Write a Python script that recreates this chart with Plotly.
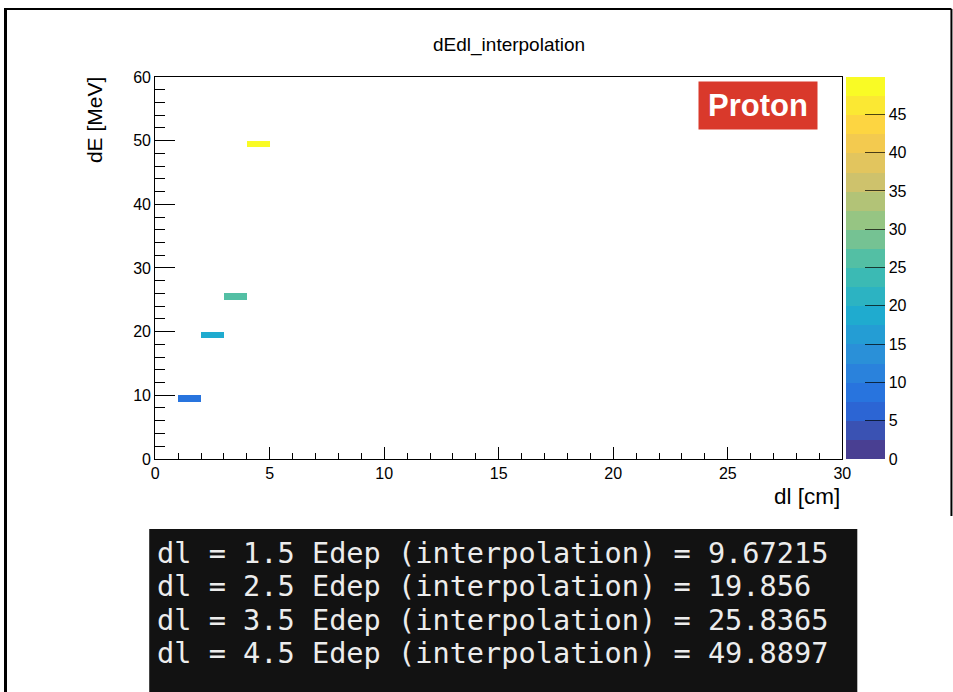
import numpy as np
import plotly.graph_objects as go

# ---- data ----
dl_values = [1.5, 2.5, 3.5, 4.5]
edep_values = [9.67215, 19.856, 25.8365, 49.8897]
x_edges = list(range(0, 31))          # 30 bins, width 1 cm
y_edges = list(range(0, 61))          # 60 bins, width 1 MeV
cbar_ticks = [0, 5, 10, 15, 20, 25, 30, 35, 40, 45]
terminal_lines = [f"dl = {d} Edep (interpolation) = {e}" for d, e in
                  zip(["1.5", "2.5", "3.5", "4.5"], ["9.67215", "19.856", "25.8365", "49.8897"])]

# ---- histogram fill (TH2 with weight = Edep) ----
nx, ny = len(x_edges) - 1, len(y_edges) - 1
z = np.full((ny, nx), np.nan)
for d, e in zip(dl_values, edep_values):
    ix = int(np.floor(d - x_edges[0]))
    iy = int(np.floor(e - y_edges[0]))
    z[iy, ix] = e
xc = [(x_edges[i] + x_edges[i + 1]) / 2 for i in range(nx)]
yc = [(y_edges[i] + y_edges[i + 1]) / 2 for i in range(ny)]
zz = [[None if np.isnan(v) else float(v) for v in row] for row in z]

# ---- ROOT kBird palette, 20 contour bands ----
stops = [0.0, 0.125, 0.25, 0.375, 0.5, 0.625, 0.75, 0.875, 1.0]
red = [0.2082, 0.0592, 0.0780, 0.0232, 0.1802, 0.5301, 0.8186, 0.9956, 0.9764]
green = [0.1664, 0.3599, 0.5041, 0.6419, 0.7178, 0.7492, 0.7328, 0.7862, 0.9832]
blue = [0.5293, 0.8684, 0.8385, 0.7914, 0.6425, 0.4662, 0.3499, 0.1968, 0.0539]


def bird(f, soften=0.1):
    r = np.interp(f, stops, red)
    g = np.interp(f, stops, green)
    b = np.interp(f, stops, blue)
    r, g, b = [v + (1 - v) * soften for v in (r, g, b)]
    return f"rgb({int(r*255)},{int(g*255)},{int(b*255)})"


nbands = 20
cscale = []
for i in range(nbands):
    c = bird(i / (nbands - 1))
    cscale.append([i / nbands, c])
    cscale.append([(i + 1) / nbands, c])

# mapping from target picture pixels to figure pixels (page margin/scale compensation)
SX, OX = 0.985, 4.0
SY, OY = 0.976, 7.0
W, H = 963, 702
px = lambda x: ((x - OX) / SX) / W
py = lambda y: 1 - ((y - OY) / SY) / H

x0, x1 = 155, 841
ytop, ybot = 76, 458
FONT = "Liberation Sans, Arial"

fig = go.Figure()
fig.add_trace(go.Heatmap(
    x=xc, y=yc, z=zz, zmin=0, zmax=max(edep_values),
    colorscale=cscale, hoverongaps=False,
    colorbar=dict(
        x=px(845), xanchor="left", thickness=39, thicknessmode="pixels",
        y=py(ybot), yanchor="bottom", len=py(ytop) - py(ybot), lenmode="fraction",
        outlinewidth=0, ticks="inside", ticklen=20, tickwidth=1,
        tickcolor="rgba(0,0,0,0.7)", tickvals=cbar_ticks,
        tickfont=dict(family=FONT, size=16, color="black"),
        ypad=0, xpad=0,
    ),
))

fig.update_layout(
    width=W, height=H, autosize=False,
    margin=dict(l=0, r=0, t=0, b=0),
    paper_bgcolor="white", plot_bgcolor="white",
    font=dict(family=FONT, size=16, color="black"),
    xaxis=dict(domain=[px(x0), px(x1)], range=[0, 30], showgrid=False, zeroline=False,
               showline=True, linecolor="black", linewidth=1, mirror=True,
               tickvals=list(range(0, 31, 5)), ticks="inside", ticklen=12, tickcolor="black",
               minor=dict(dtick=1, ticks="inside", ticklen=6, tickcolor="black"),
               tickfont=dict(size=16)),
    yaxis=dict(domain=[py(ybot), py(ytop)], range=[0, 60], showgrid=False, zeroline=False,
               showline=True, linecolor="black", linewidth=1, mirror=True,
               tickvals=list(range(0, 61, 10)), ticks="inside", ticklen=20, tickcolor="black",
               minor=dict(dtick=2, ticks="inside", ticklen=10, tickcolor="black"),
               tickfont=dict(size=16)),
)

ann = []
ann.append(dict(text="dEdl_interpolation", x=px(508), y=py(44), xref="paper", yref="paper",
                showarrow=False, font=dict(size=19), xanchor="center", yanchor="middle"))
ann.append(dict(text="dE [MeV]", x=px(95), y=py(74), xref="paper", yref="paper",
                showarrow=False, font=dict(size=21), textangle=-90, xanchor="center", yanchor="top"))
ann.append(dict(text="dl [cm]", x=px(841), y=py(496), xref="paper", yref="paper",
                showarrow=False, font=dict(size=22.5), xanchor="right", yanchor="middle"))
ann.append(dict(text="<b>Proton</b>", x=px(757), y=py(105), xref="paper", yref="paper",
                showarrow=False, font=dict(size=31, color="white", family=FONT),
                bgcolor="#d9392b", borderpad=0, xanchor="center", yanchor="middle",
                width=118, height=47))
for i, line in enumerate(terminal_lines):
    ann.append(dict(text=line, x=px(155), y=py(552 + i * 33.5), xref="paper", yref="paper",
                    showarrow=False, xanchor="left", yanchor="middle",
                    font=dict(family="DejaVu Sans Mono", size=28.6, color="#ececec")))
fig.update_layout(annotations=ann)

shapes = [
    dict(type="rect", xref="paper", yref="paper", x0=px(149), x1=px(856), y0=-0.02, y1=py(528),
         fillcolor="#121212", line=dict(width=0), layer="below"),
    dict(type="line", xref="paper", yref="paper", x0=px(5.5), x1=px(5.5), y0=-0.02, y1=py(8),
         line=dict(color="black", width=3)),
    dict(type="line", xref="paper", yref="paper", x0=px(4), x1=px(950), y0=py(8), y1=py(8),
         line=dict(color="black", width=2)),
    dict(type="line", xref="paper", yref="paper", x0=px(950), x1=px(950), y0=py(8), y1=py(515),
         line=dict(color="black", width=2)),
]
fig.update_layout(shapes=shapes)

fig.write_html("out.html")
